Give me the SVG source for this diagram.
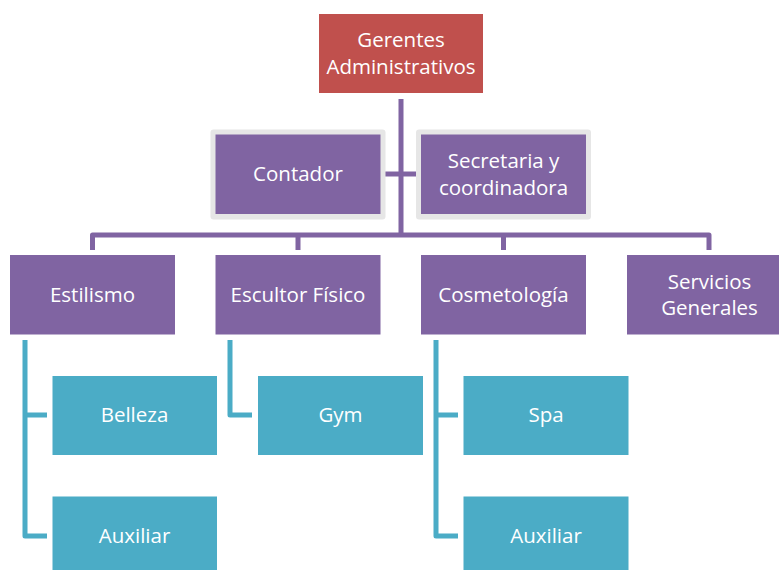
<svg xmlns="http://www.w3.org/2000/svg" width="779" height="570" viewBox="0 0 779 570">
<style>
.t{font-family:"Open Sans","Noto Sans","Liberation Sans",sans-serif;font-size:20.5px;fill:#ffffff;text-anchor:middle}
.p{fill:#8064A2}
.r{fill:#C0504D}
.c{fill:#4BACC6}
.g{fill:#E6E6E6}
.lp{fill:none;stroke:#8064A2;stroke-width:5;stroke-linejoin:round}
.lc{fill:none;stroke:#4BACC6;stroke-width:5;stroke-linejoin:round}
</style>
<rect width="779" height="570" fill="#ffffff"/>
<g id="connectors">
<path class="lp" d="M401,99 V237"/>
<path class="lp" d="M92.5,250 V235 H709 V250"/>
<path class="lp" d="M298,235 V250 M503.5,235 V250"/>
<path class="lp" d="M385,174 H416"/>
<path class="lc" d="M25,340 V536 H47 M25,415 H47"/>
<path class="lc" d="M230,340 V415 H252"/>
<path class="lc" d="M436,340 V536 H458 M436,415 H458"/>
</g>
<g id="gerentes">
<rect class="r" x="319" y="14" width="164" height="79"/>
<text class="t" x="401" y="47">Gerentes</text>
<text class="t" x="401" y="74">Administrativos</text>
</g>
<g id="contador">
<rect class="g" x="210.5" y="129.5" width="175" height="90" rx="3"/>
<rect class="p" x="215.5" y="134.5" width="165" height="79.5"/>
<text class="t" x="298" y="181">Contador</text>
</g>
<g id="secretaria">
<rect class="g" x="416" y="129.5" width="175" height="90" rx="3"/>
<rect class="p" x="421" y="134.5" width="165" height="79.5"/>
<text class="t" x="503.5" y="168">Secretaria y</text>
<text class="t" x="503.5" y="195">coordinadora</text>
</g>
<g id="estilismo">
<rect class="p" x="10" y="255" width="165" height="79.5"/>
<text class="t" x="92.5" y="302">Estilismo</text>
</g>
<g id="escultor">
<rect class="p" x="215.5" y="255" width="165" height="79.5"/>
<text class="t" x="298" y="302">Escultor Físico</text>
</g>
<g id="cosmetologia">
<rect class="p" x="421" y="255" width="165" height="79.5"/>
<text class="t" x="503.5" y="302">Cosmetología</text>
</g>
<g id="servicios">
<rect class="p" x="627" y="255" width="165" height="79.5"/>
<text class="t" x="709.5" y="289">Servicios</text>
<text class="t" x="709.5" y="315">Generales</text>
</g>
<g id="belleza">
<rect class="c" x="52.5" y="376" width="164.5" height="79"/>
<text class="t" x="134.5" y="422">Belleza</text>
</g>
<g id="auxiliar1">
<rect class="c" x="52.5" y="496.5" width="164.5" height="79"/>
<text class="t" x="134.5" y="543">Auxiliar</text>
</g>
<g id="gym">
<rect class="c" x="258" y="376" width="165" height="79"/>
<text class="t" x="340.5" y="422">Gym</text>
</g>
<g id="spa">
<rect class="c" x="463.5" y="376" width="165" height="79"/>
<text class="t" x="546" y="422">Spa</text>
</g>
<g id="auxiliar2">
<rect class="c" x="463.5" y="496.5" width="165" height="79"/>
<text class="t" x="546" y="543">Auxiliar</text>
</g>
</svg>
